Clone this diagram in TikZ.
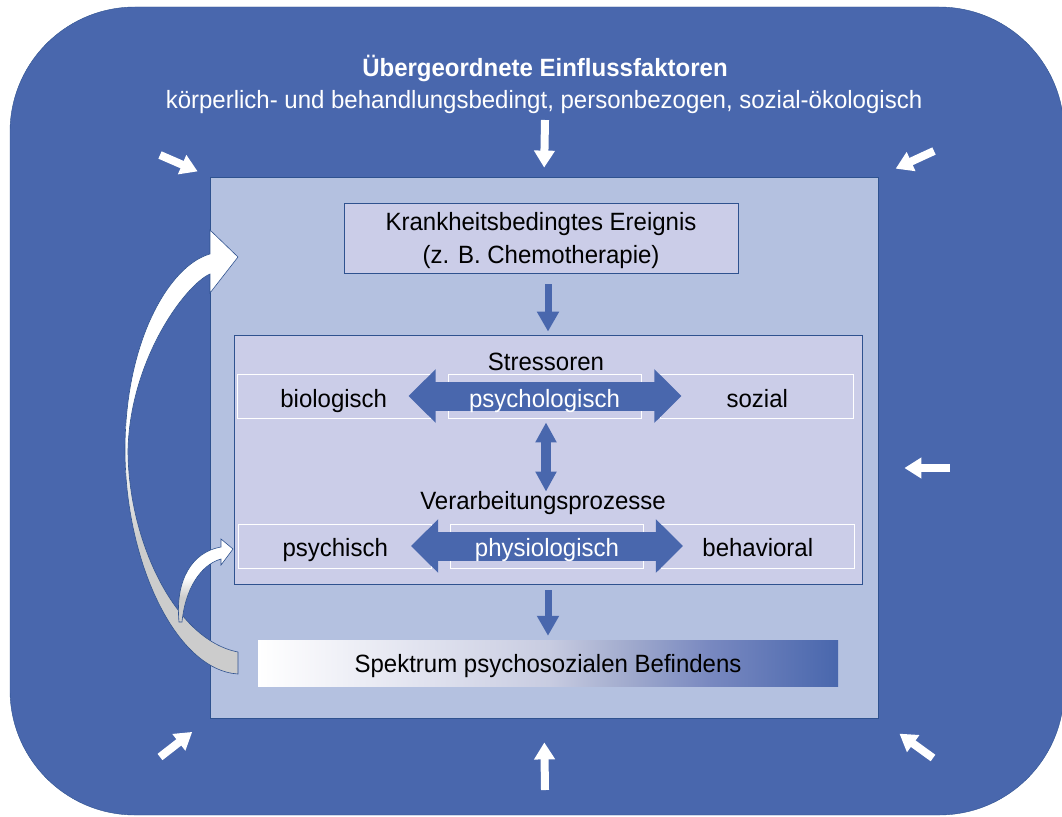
\documentclass[tikz,border=0pt]{standalone}
\usepackage{fontspec}
\setmainfont{Liberation Sans}[FakeStretch=0.96]
\usetikzlibrary{arrows.meta,positioning}

\definecolor{mainblue}{RGB}{73,103,173}
\definecolor{innerblue}{RGB}{180,193,224}
\definecolor{lavender}{RGB}{203,205,232}
\definecolor{edgeblue}{RGB}{47,82,143}
\definecolor{tailgray}{RGB}{204,204,204}
\definecolor{spekA}{RGB}{223,225,238}
\definecolor{spekB}{RGB}{200,204,225}
\definecolor{spekC}{RGB}{160,170,205}
\definecolor{spekD}{RGB}{120,136,192}

% gradient of the Spektrum bar (path spans 25bp..75bp)
\pgfdeclarehorizontalshading{spektrum}{100bp}{color(0bp)=(white); color(25bp)=(white);
  color(40bp)=(spekA); color(50bp)=(spekB); color(57bp)=(spekC); color(64bp)=(spekD);
  color(75bp)=(mainblue); color(100bp)=(mainblue)}
% white at the top, gray at the tail
\pgfdeclareverticalshading{curvshade}{100bp}{color(0bp)=(tailgray); color(40bp)=(tailgray);
  color(52bp)=(white); color(100bp)=(white)}

\tikzset{
    frame/.style={
           rectangle,
           rounded corners=125pt,
           draw=edgeblue,
           fill=mainblue,
           minimum width=1054pt,
           minimum height=808pt,
           },
    panel/.style={
           rectangle,
           draw=edgeblue, line width=0.8pt,
           inner sep=0pt,
           },
    rowbox/.style={
           rectangle,
           draw=white, line width=0.8pt,
           fill=lavender,
           minimum width=193pt,
           minimum height=44pt,
           inner sep=0pt,
           },
    txt/.style={font=\fontsize{25}{33}\selectfont, inner sep=0pt, text=black, align=center},
    headtxt/.style={font=\fontsize{25}{33}\selectfont, inner sep=0pt, text=white, anchor=base},
    inarrow/.style={draw=white, line width=8pt, -{Triangle[width=20pt,length=17pt]}},
    downarrow/.style={draw=mainblue, line width=7pt, -{Triangle[width=21pt,length=20pt]}},
    vertarrow/.style={draw=mainblue, line width=10pt,
           {Triangle[width=20pt,length=20pt]}-{Triangle[width=20pt,length=20pt]}},
    bigarrow/.style={draw=mainblue, line width=29pt,
           {Triangle[width=52pt,length=27pt]}-{Triangle[width=52pt,length=27pt]}},
    curvarrow/.style={shade, shading=curvshade, draw=edgeblue, line width=0.6pt},
}

\begin{document}
\begin{tikzpicture}[x=1pt,y=-1pt]
 \useasboundingbox (0,0) rectangle (1062,816);

 % outer frame with the overall factors
 \node[frame] (frame) at (537,411) {};
 \node[headtxt,font=\fontsize{25}{33}\selectfont\bfseries] (title) at (545,77) {Übergeordnete Einflussfaktoren};
 \node[headtxt] (subtitle) at (544,108) {körperlich- und behandlungsbedingt, personbezogen, sozial-ökologisch};

 % inner area
 \node[panel,fill=innerblue,minimum width=668pt,minimum height=541pt] (inner) at (544,447.5) {};

 % white arrows pointing inwards
 \coordinate (tN) at (545,120);
 \coordinate (tNW) at (160,155);
 \coordinate (tNE) at (934,151);
 \coordinate (tE) at (950,468);
 \coordinate (tS) at (545,790);
 \coordinate (tSW) at (160,757);
 \coordinate (tSE) at (933,758);
 \draw[inarrow,shorten >=9pt] (tN) -- (inner.north);
 \draw[inarrow,shorten >=13pt] (tNW) -- (inner.north west);
 \draw[inarrow,shorten >=19pt] (tNE) -- (inner.north east);
 \draw[inarrow,shorten >=26pt] (tE) -- (tE -| inner.east);
 \draw[inarrow,shorten >=24pt] (tS) -- (inner.south);
 \draw[inarrow,shorten >=22pt] (tSW) -- (inner.south west);
 \draw[inarrow,shorten >=26pt] (tSE) -- (inner.south east);

 % event
 \node[panel,fill=lavender,minimum width=394pt,minimum height=70pt] (event) at (541,238) {};
 \node[txt] (eventlbl) at ([yshift=-3pt]event.center)
 {Krankheitsbedingtes Ereignis\\(z. B. Chemotherapie)};

 % stressors and coping
 \node[panel,fill=lavender,minimum width=628pt,minimum height=249pt] (stress) at (548,459.5) {};
 \node[txt,anchor=base] (stresslbl) at (546,370) {Stressoren};
 \node[rowbox] (psy) at (544.5,396) {};
 \node[rowbox,left=17pt of psy] (bio) {};
 \node[rowbox,right=19pt of psy] (soz) {};
 \node[txt,anchor=base] (biolbl) at ([yshift=-11pt]bio.center) {biologisch};
 \node[txt,anchor=base] (sozlbl) at ([yshift=-11pt]soz.center) {sozial};
 \draw[bigarrow] ([xshift=-39pt]psy.west) -- ([xshift=40pt]psy.east);
 \node[txt,anchor=base,text=white] (psylbl) at ([yshift=-11pt]psy.center) {psychologisch};

 \node[txt,anchor=base] (coplbl) at (543,509) {Verarbeitungsprozesse};
 \node[rowbox] (phy) at (547,546) {};
 \node[rowbox,left=18pt of phy] (psych) {};
 \node[rowbox,right=17pt of phy] (beh) {};
 \node[txt,anchor=base] (psychlbl) at ([yshift=-10pt]psych.center) {psychisch};
 \node[txt,anchor=base] (behlbl) at ([yshift=-10pt]beh.center) {behavioral};
 \draw[bigarrow] ([xshift=-39pt]phy.west) -- ([xshift=39pt]phy.east);
 \node[txt,anchor=base,text=white] (phylbl) at ([yshift=-10pt]phy.center) {physiologisch};

 \draw[vertarrow,shorten <=4pt,shorten >=32pt] (psy.south -| stresslbl) -- (phy.north -| stresslbl);

 % outcome
 \node[rectangle,shading=spektrum,minimum width=580pt,minimum height=46pt] (spek) at (548,663) {};
 \node[txt,anchor=base] (speklbl) at ([yshift=-9pt]spek.center) {Spektrum psychosozialen Befindens};

 % blue arrows down
 \draw[downarrow,shorten <=11pt,shorten >=3pt] (stress.north |- event.south) -- (stress.north);
 \draw[downarrow,shorten <=6pt,shorten >=4pt] (stress.south) -- (stress.south |- spek.north);

 % feedback arrows on the left
 \path[curvarrow] (238,652) .. controls (175,640) and (128,540) .. (128,450)
   .. controls (130,360) and (185,285) .. (210,274)
   -- (210,293) -- (238,257) -- (210,230) -- (210,254)
   .. controls (170,265) and (125,340) .. (125,450)
   .. controls (125,560) and (175,670) .. (238,674) -- cycle;
 \path[curvarrow] (182,622) .. controls (185,590) and (200,565) .. (221,559)
   -- (221,565) -- (233,549) -- (221,539) -- (221,547)
   .. controls (192,552) and (175,580) .. (179,622) -- cycle;

\end{tikzpicture}
\end{document}
